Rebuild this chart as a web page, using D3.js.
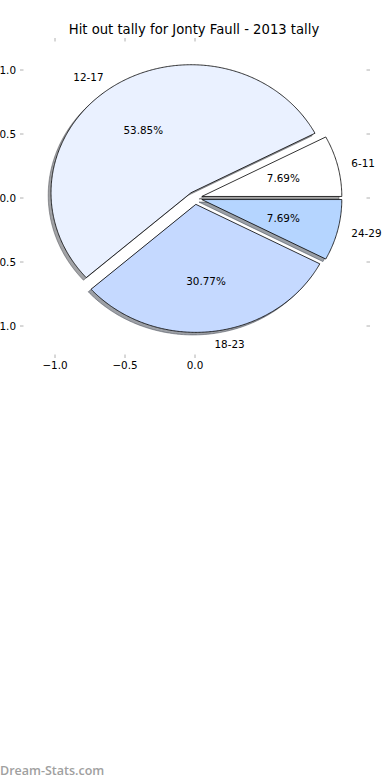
<!DOCTYPE html>
<html><head><meta charset="utf-8">
<script src="https://cdn.jsdelivr.net/npm/d3@7"></script>
<style>body{margin:0;background:#fff}svg{display:block}</style>
</head><body>
<svg id="c" width="390" height="780"></svg>
<script>
const categories = ["6-11", "12-17", "18-23", "24-29"];
const values = [1, 7, 4, 1];
const colors = ["#FFFFFF", "#EAF1FF", "#C5D9FF", "#B5D5FF"];
const explode = [0.05, 0.05, 0.05, 0.05];
const xTicks = [-1.0, -0.5, 0.0];
const yTicks = [1.0, 0.5, 0.0, -0.5, -1.0];
const title = "Hit out tally for Jonty Faull - 2013 tally";

const svg = d3.select("#c");
const x = d3.scaleLinear().domain([-1.25, 1.25]).range([20, 370]);
const y = d3.scaleLinear().domain([-1.25, 1.25]).range([358, 38]);
const font = "'DejaVu Sans', sans-serif";
const fs = 10.4;

const total = d3.sum(values);
const pie = d3.pie().sort(null).value(d => d).startAngle(0).endAngle(2 * Math.PI);
const arcs = pie(values).map((a, i) => {
  const t1 = a.startAngle, t2 = a.endAngle, tm = (t1 + t2) / 2;
  const cx = explode[i] * Math.cos(tm), cy = explode[i] * Math.sin(tm);
  return {i, t1, t2, tm, cx, cy, frac: values[i] / total};
});

function wedgePts(a, ox, oy) {
  const pts = [[a.cx + ox, a.cy + oy]];
  const n = Math.max(8, Math.ceil((a.t2 - a.t1) / 0.01));
  for (let k = 0; k <= n; k++) {
    const t = a.t1 + (a.t2 - a.t1) * k / n;
    pts.push([a.cx + ox + Math.cos(t), a.cy + oy + Math.sin(t)]);
  }
  return pts;
}
const line = d3.line().x(d => x(d[0])).y(d => y(d[1]));

// shadows
const sh = -0.02;
const shade = c => { const r = d3.rgb(c); return d3.rgb(r.r*0.3, r.g*0.3, r.b*0.3); };
svg.append("g").selectAll("path").data(arcs).join("path")
  .attr("d", a => line(wedgePts(a, sh, sh)) + "Z")
  .attr("fill", a => shade(colors[a.i]))
  .attr("stroke", a => shade(colors[a.i]))
  .attr("fill-opacity", 0.5).attr("stroke-opacity", 0.5).attr("stroke-width", 1);

// wedges
svg.append("g").selectAll("path").data(arcs).join("path")
  .attr("d", a => line(wedgePts(a, 0, 0)) + "Z")
  .attr("fill", a => colors[a.i])
  .attr("stroke", "#000").attr("stroke-width", 0.8).attr("stroke-linejoin", "miter");

// labels
svg.append("g").selectAll("text").data(arcs).join("text")
  .attr("x", a => x(a.cx + 1.1 * Math.cos(a.tm)))
  .attr("y", a => y(a.cy + 1.1 * Math.sin(a.tm)))
  .attr("text-anchor", a => (a.cx + 1.1 * Math.cos(a.tm)) > 0 ? "start" : "end")
  .attr("dominant-baseline", "central")
  .attr("font-family", font).attr("font-size", fs).attr("fill", "#000")
  .text(a => categories[a.i]);

svg.append("g").selectAll("text").data(arcs).join("text")
  .attr("x", a => x(a.cx + 0.6 * Math.cos(a.tm)))
  .attr("y", a => y(a.cy + 0.6 * Math.sin(a.tm)))
  .attr("text-anchor", "middle")
  .attr("dominant-baseline", "central")
  .attr("font-family", font).attr("font-size", fs).attr("fill", "#000")
  .text(a => (a.frac * 100).toFixed(2) + "%");

// ticks
const tc = "#b0b0b0", tl = 3.5;
const tg = svg.append("g").attr("stroke", tc).attr("stroke-width", 1);
xTicks.forEach(v => {
  tg.append("line").attr("x1", x(v)).attr("x2", x(v)).attr("y1", y.range()[0]).attr("y2", y.range()[0] - tl);
  tg.append("line").attr("x1", x(v)).attr("x2", x(v)).attr("y1", y.range()[1]).attr("y2", y.range()[1] + tl);
});
yTicks.forEach(v => {
  tg.append("line").attr("y1", y(v)).attr("y2", y(v)).attr("x1", x.range()[0]).attr("x2", x.range()[0] + tl);
  tg.append("line").attr("y1", y(v)).attr("y2", y(v)).attr("x1", x.range()[1]).attr("x2", x.range()[1] - tl);
});
const fmt = v => (v < 0 ? "\u2212" : "") + Math.abs(v).toFixed(1);
svg.append("g").selectAll("text").data(xTicks).join("text")
  .attr("x", d => x(d)).attr("y", y.range()[0] + 3).attr("dy", "0.76em")
  .attr("text-anchor", "middle").attr("font-family", font).attr("font-size", fs).attr("fill", "#000")
  .text(fmt);
svg.append("g").selectAll("text").data(yTicks).join("text")
  .attr("x", x.range()[0] - 4).attr("y", d => y(d)).attr("dominant-baseline", "central")
  .attr("text-anchor", "end").attr("font-family", font).attr("font-size", fs).attr("fill", "#000")
  .text(fmt);

// title
svg.append("text").attr("x", 194).attr("y", y.range()[1] - 4)
  .attr("text-anchor", "middle").attr("font-family", font).attr("font-size", 13.2).attr("fill", "#000")
  .text(title);

// watermark
svg.append("text").attr("x", 0).attr("y", 775)
  .attr("font-family", "'Open Sans', sans-serif").attr("font-size", 12.5).attr("font-weight", 600).attr("fill", "#a0a0a0")
  .text("Dream-Stats.com");
</script>
</body></html>
